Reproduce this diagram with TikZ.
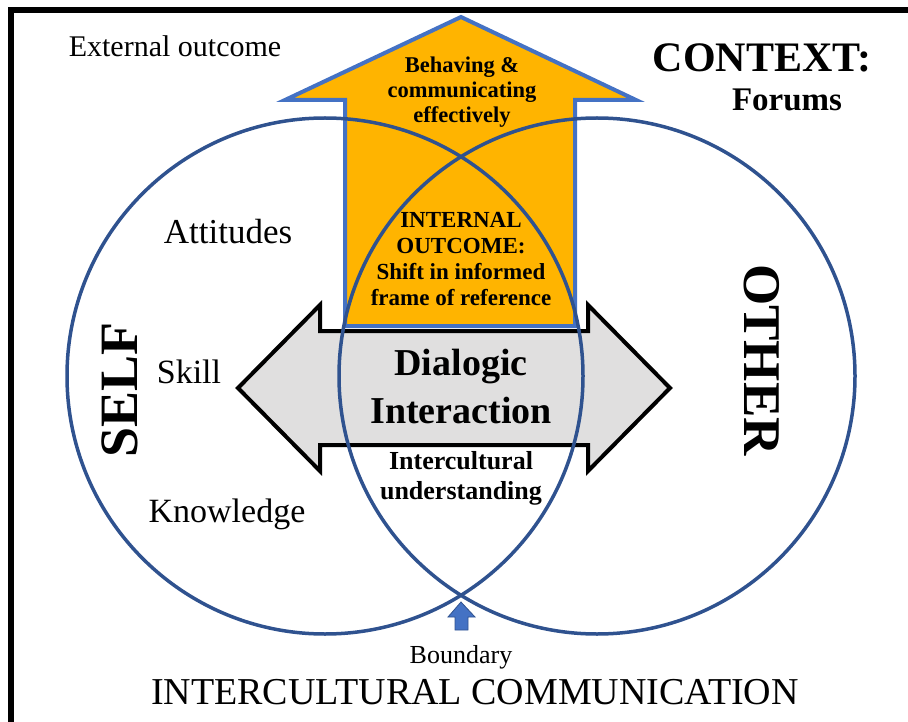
\documentclass[tikz,border=0pt]{standalone}
\usepackage{fontspec}
\setmainfont{Liberation Serif}
\usepackage{tikz}

\definecolor{ringblue}{RGB}{47,82,143}
\definecolor{edgeblue}{RGB}{68,114,196}
\definecolor{outcome}{RGB}{255,180,0}
\definecolor{talkgray}{RGB}{224,223,223}

\newcommand{\fs}[2]{\fontsize{#1}{#2}\selectfont}

\begin{document}
\begin{tikzpicture}[x=1pt, y=-1pt,
		txt/.style={inner sep=0pt, align=center},
		ring/.style={draw=ringblue, line width=3.5pt}]
		\useasboundingbox (0,0) rectangle (908,722);
		% frame
		\draw[line width=6pt] (11,730) -- (11,10.5) -- (915,10.5);
		% dialogic double arrow
		\draw[fill=talkgray, line width=4pt, line join=miter]
			(238,388) -- (320,305) -- (320,331) -- (588,331) -- (588,305)
			-- (670,388) -- (588,471) -- (588,445) -- (320,445) -- (320,471) -- cycle;
		% outcome arrow
		\draw[fill=outcome, draw=edgeblue, line width=4pt, line join=miter]
			(345,326) -- (345,100) -- (285,100) -- (461,17) -- (636,100)
			-- (575,100) -- (575,326) -- cycle;
		% self and other
		\draw[ring] (325,376) circle (258);
		\draw[ring] (597,376) circle (258);
		% boundary marker
		\draw[fill=edgeblue, draw=ringblue, line width=0.8pt]
			(461,602) -- (475,617) -- (468,617) -- (468,630) -- (455,630)
			-- (455,617) -- (448,617) -- cycle;

		\node[txt, font=\fs{30}{36}] (ext) at (175,46) {External outcome};
		\node[txt, font=\fs{42}{48}\bfseries] (ctx) at (762,58) {CONTEXT:};
		\node[txt, font=\fs{33}{38}\bfseries] (forum) at (787,100) {Forums};
		\node[txt, font=\fs{22.5}{25}\bfseries] (behave) at (462,92) {Behaving \&\\ communicating\\ effectively};
		\node[txt, font=\fs{35}{40}] (att) at (228,232) {Attitudes};
		\node[txt, font=\fs{34}{40}] (skill) at (189,372) {Skill};
		\node[txt, font=\fs{34}{40}] (know) at (227,514) {Knowledge};
		\node[txt, rotate=90, font=\fs{54}{60}\bfseries] (self) at (120,390) {SELF};
		\node[txt, rotate=-90, font=\fs{53}{60}\bfseries] (other) at (762,360) {OTHER};
		\node[txt, font=\fs{23}{26.3}\bfseries] (inner) at (461,259) {INTERNAL\\ OUTCOME:\\ Shift in informed\\ frame of reference};
		\node[txt, font=\fs{38}{48}\bfseries] (dialog) at (461,387) {Dialogic\\ Interaction};
		\node[txt, font=\fs{26}{30}\bfseries] (under) at (461,478) {Intercultural\\ understanding};
		\node[txt, font=\fs{26}{30}] (bound) at (461,657) {Boundary};
		\node[txt, font=\fs{38}{44}] (icc) at (475,692) {INTERCULTURAL COMMUNICATION};
\end{tikzpicture}
\end{document}
